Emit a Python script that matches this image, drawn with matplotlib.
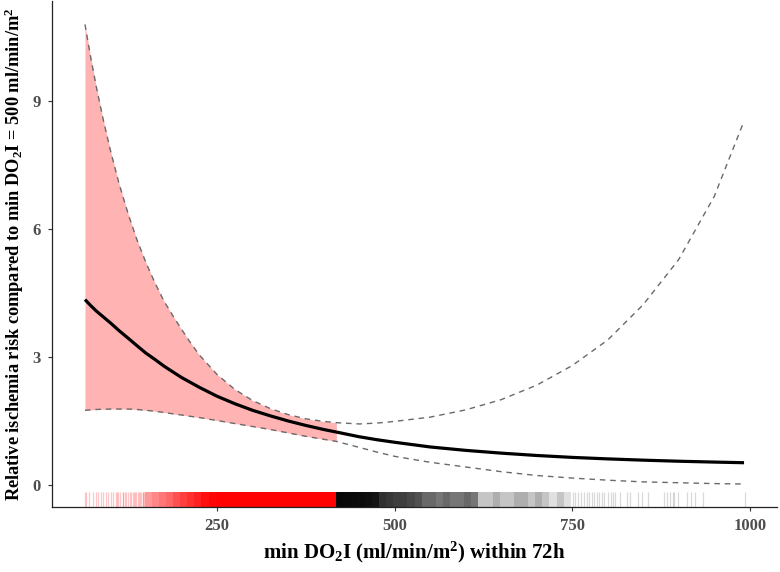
import matplotlib
matplotlib.use("Agg")
import matplotlib.pyplot as plt
import numpy as np

# ---- data ----
dose = [64, 72, 80, 90, 100, 112, 125, 137, 150, 162, 175, 187, 200, 212, 225, 250, 275, 300,
        325, 350, 375, 400, 418, 450, 475, 500, 550, 600, 650, 700, 750, 800, 850, 900, 950, 992]
rr = [4.35, 4.21, 4.08, 3.94, 3.80, 3.62, 3.44, 3.27, 3.09, 2.95, 2.79, 2.66, 2.52, 2.41, 2.29,
      2.08, 1.905, 1.75, 1.62, 1.50, 1.395, 1.30, 1.24, 1.13, 1.06, 1.00, 0.89, 0.81, 0.745,
      0.69, 0.645, 0.61, 0.58, 0.555, 0.535, 0.52]
upper = [10.81, 10.04, 9.34, 8.55, 7.84, 7.07, 6.35, 5.76, 5.21, 4.76, 4.32, 3.99, 3.65, 3.35,
         3.05, 2.59, 2.24, 1.98, 1.79, 1.65, 1.55, 1.49, 1.46, 1.43, 1.45, 1.49, 1.59, 1.76,
         2.00, 2.34, 2.80, 3.40, 4.23, 5.29, 6.77, 8.54]
lower = [1.75, 1.76, 1.77, 1.775, 1.78, 1.78, 1.78, 1.77, 1.75, 1.73, 1.70, 1.67, 1.64, 1.61,
         1.58, 1.51, 1.44, 1.37, 1.30, 1.22, 1.14, 1.07, 1.02, 0.88, 0.77, 0.67, 0.53, 0.42,
         0.31, 0.22, 0.16, 0.11, 0.07, 0.05, 0.03, 0.02]
cutoff = 418

# rug: individual observations in sparse ranges
rug_low = [64, 66, 70, 75, 79, 83, 86, 90, 93, 97, 100, 104, 107, 111, 114, 118, 121, 125,
           129, 133, 136, 140, 143, 147, 131, 138, 145, 117, 122, 109, 127, 142, 135, 146]
rug_high = [751, 754, 758, 763, 767, 771, 774, 778, 781, 785, 788, 792, 795, 800, 804, 808,
            810, 818, 827, 832, 842, 849, 857, 879, 884, 888, 892, 894, 899, 912, 918, 923, 934, 994]
# rug: observation counts per 10-unit bin in the dense range
bin_left = [148, 158, 168, 178, 188, 198, 208, 218, 228, 238, 248, 258, 268, 278, 288, 298, 308,
            318, 328, 338, 348, 358, 368, 378, 388, 398, 408, 418, 428, 438, 448, 458, 468, 478,
            488, 498, 508, 518, 528, 538, 548, 558, 568, 578, 588, 598, 608, 618, 628, 638, 648,
            658, 668, 678, 688, 698, 708, 718, 728, 738]
bin_count = [4, 5, 6, 7, 9, 11, 13, 16, 22, 30, 35, 35, 35, 35, 35, 35, 35, 35, 35, 35, 35, 35,
             35, 35, 35, 35, 35, 28, 26, 25, 24, 22, 20, 13, 12, 11, 11, 10, 9, 7, 7, 6, 7, 6, 6,
             7, 6, 2, 2, 3, 2, 2, 3, 3, 2, 3, 2, 1, 2, 1]

x_ticks = [250, 500, 750, 1000]
y_ticks = [0, 3, 6, 9]

plt.rcParams['font.family'] = ['Liberation Serif', 'DejaVu Serif']
plt.rcParams['font.weight'] = 'bold'
plt.rcParams['mathtext.fontset'] = 'custom'
plt.rcParams['mathtext.rm'] = 'Liberation Serif:bold'
plt.rcParams['mathtext.it'] = 'Liberation Serif:bold'
plt.rcParams['mathtext.bf'] = 'Liberation Serif:bold'

fig = plt.figure(figsize=(7.8, 5.72), dpi=100)
ax = fig.add_axes([0.0667, 0.1136, 0.930, 0.884])

d = np.array(dose)
lo = np.array(lower)
up = np.array(upper)
mask = d <= cutoff
ax.fill_between(d[mask], lo[mask], up[mask], color='#FFB3B3', lw=0, zorder=1)
ax.plot(dose, upper, color='#6A6A6A', lw=1.0, ls=(0, (4, 3.5)), zorder=2)
ax.plot(dose, lower, color='#6A6A6A', lw=1.0, ls=(0, (4, 3.5)), zorder=2)
ax.plot(dose, rr, color='black', lw=2.3, zorder=3, solid_capstyle='butt')

# rug
a1 = 0.12
trans = ax.get_xaxis_transform()
for l, n in zip(bin_left, bin_count):
    col = 'red' if l < cutoff else 'black'
    ax.axvspan(l, l + 10, 0, 0.03, color=col, alpha=1 - (1 - a1) ** n, lw=0, zorder=1)
for v in rug_low:
    ax.vlines(v, 0, 0.03, transform=trans, color='red', alpha=0.22, lw=0.9, zorder=1)
for v in rug_high:
    ax.vlines(v, 0, 0.03, transform=trans, color='black', alpha=0.15, lw=0.9, zorder=1)

ax.set_xlim(17.6, 1039)
ax.set_ylim(-0.52, 11.35)
ax.set_xticks(x_ticks)
ax.set_yticks(y_ticks)
ax.set_xticklabels([str(t) for t in x_ticks])
ax.set_yticklabels([str(t) for t in y_ticks])
for s in ['top', 'right']:
    ax.spines[s].set_visible(False)
for s in ['left', 'bottom']:
    ax.spines[s].set_color('#222222')
    ax.spines[s].set_linewidth(0.9)
ax.tick_params(axis='both', colors='#333333', labelcolor='#4D4D4D', labelsize=12,
               length=3, width=0.8, pad=5)
for lab in ax.get_xticklabels() + ax.get_yticklabels():
    lab.set_fontweight('bold')

ax.set_xlabel('min DO$_2$I (ml/min/m$^2$) within 72h', fontsize=15, fontweight='bold',
              labelpad=4)
ax.set_ylabel('Relative ischemia risk compared to min DO$_2$I = 500 ml/min/m$^2$', fontsize=13.2,
              fontweight='bold', labelpad=5)

fig.savefig('out.png', dpi=100)
